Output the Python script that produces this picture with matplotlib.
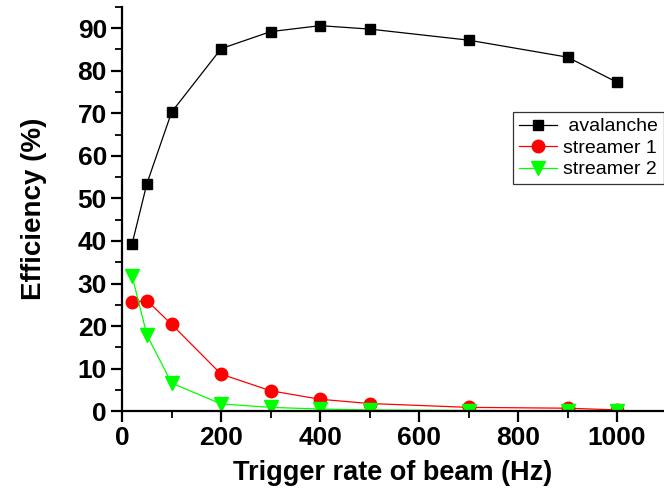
import matplotlib.pyplot as plt
from matplotlib.ticker import MultipleLocator

plt.rcParams['font.family'] = ['Liberation Sans', 'DejaVu Sans']

# trigger rate (Hz)
rate = [20, 50, 100, 200, 300, 400, 500, 700, 900, 1000]

# efficiency (%)
avalanche = [39.3, 53.5, 70.3, 85.2, 89.2, 90.6, 89.8, 87.2, 83.2, 77.3]
streamer1 = [25.6, 26.0, 20.4, 8.7, 4.8, 2.8, 1.8, 0.9, 0.7, 0.3]
streamer2 = [31.8, 17.9, 6.6, 1.7, 0.9, 0.5, 0.3, 0.15, 0.1, 0.05]

fig = plt.figure(figsize=(6.64, 4.96), dpi=100)
ax = fig.add_axes([0.184, 0.171, 0.816, 0.815])

ax.plot(rate, avalanche, 'k-', marker='s', ms=7.5, lw=0.9, label=' avalanche')
ax.plot(rate, streamer1, '-', color='#ff0000', marker='o', ms=9, lw=0.9,
        label='streamer 1')
ax.plot(rate, streamer2, '-', color='#00ff00', marker='v', ms=9.5, lw=0.9,
        label='streamer 2')

ax.set_xlim(0, 1095)
ax.set_ylim(0, 95)
ax.xaxis.set_major_locator(MultipleLocator(200))
ax.xaxis.set_minor_locator(MultipleLocator(100))
ax.yaxis.set_major_locator(MultipleLocator(10))
ax.yaxis.set_minor_locator(MultipleLocator(5))

for side in ['top', 'right']:
    ax.spines[side].set_visible(False)
for side in ['left', 'bottom']:
    ax.spines[side].set_linewidth(1.6)

ax.tick_params(which='major', direction='out', length=8, width=1.6,
               labelsize=19, pad=3)
ax.tick_params(which='minor', direction='out', length=5, width=1.3)
for lbl in ax.get_xticklabels() + ax.get_yticklabels():
    lbl.set_fontweight('bold')

ax.set_xlabel('Trigger rate of beam (Hz)', fontsize=19.5, fontweight='bold',
              labelpad=7)
ax.set_ylabel('Efficiency (%)', fontsize=20, fontweight='bold', labelpad=22)

leg = ax.legend(loc='upper right', bbox_to_anchor=(1.0, 0.74), fontsize=14,
                frameon=True, fancybox=False, edgecolor='black',
                handlelength=2.0, borderpad=0.3, labelspacing=0.2,
                handletextpad=0.3, borderaxespad=0.0)
leg.get_frame().set_linewidth(0.9)

fig.savefig('out.png', dpi=100)
